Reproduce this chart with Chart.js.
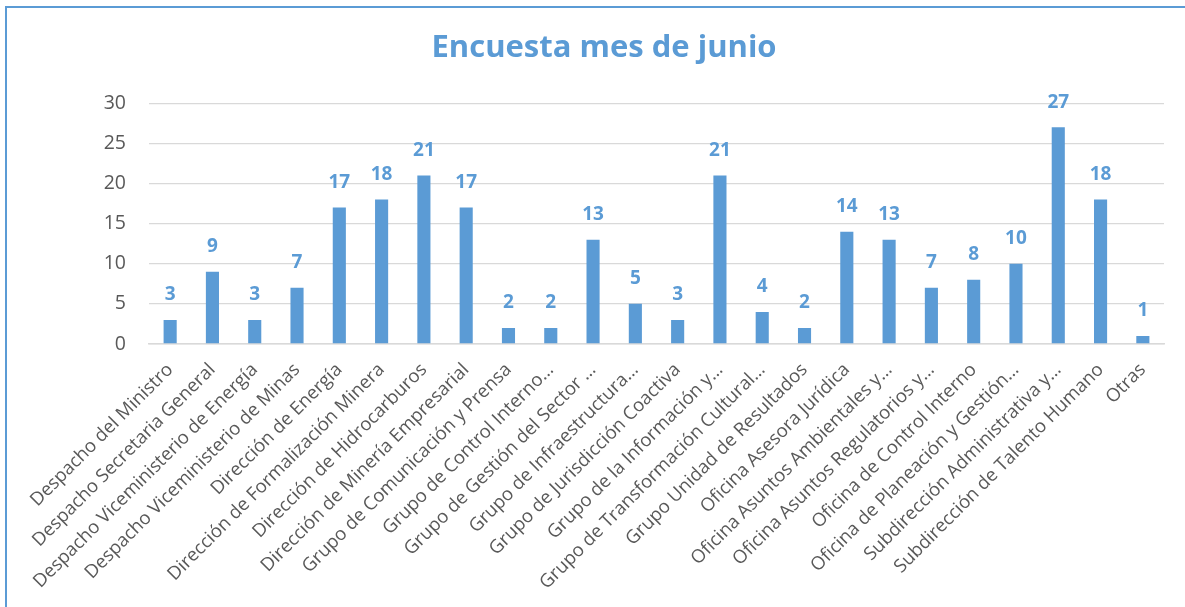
<!DOCTYPE html>
<html>
<head>
<meta charset="utf-8">
<title>Encuesta mes de junio</title>
<script src="https://cdn.jsdelivr.net/npm/chart.js@4/dist/chart.umd.min.js"></script>
<style>
    html, body { margin: 0; padding: 0; background: #fff; overflow: hidden; }
    #frame {
        position: absolute; left: 5px; top: 6px; width: 1200px; height: 620px;
        border: 2px solid #5b9bd5; box-sizing: border-box;
    }
    #wrap { position: absolute; left: 0; top: 0; width: 1185px; height: 607px; }
</style>
</head>
<body>
<div id="frame"></div>
<div id="wrap"><canvas id="surveyChart"></canvas></div>
<script>
// --- Chart data ---
const areas = [
    'Despacho del Ministro',
    'Despacho Secretaria General',
    'Despacho Viceministerio de Energía',
    'Despacho Viceministerio de Minas',
    'Dirección de Energía',
    'Dirección de Formalización Minera',
    'Dirección de Hidrocarburos',
    'Dirección de Minería Empresarial',
    'Grupo de Comunicación y Prensa',
    'Grupo de Control Interno…',
    'Grupo de Gestión del Sector …',
    'Grupo de Infraestructura…',
    'Grupo de Jurisdicción Coactiva',
    'Grupo de la Información y…',
    'Grupo de Transformación Cultural…',
    'Grupo Unidad de Resultados',
    'Oficina Asesora Jurídica',
    'Oficina Asuntos Ambientales y…',
    'Oficina Asuntos Regulatorios y…',
    'Oficina de Control Interno',
    'Oficina de Planeación y Gestión…',
    'Subdirección Administrativa y…',
    'Subdirección de Talento Humano',
    'Otras'
];
const responses = [3, 9, 3, 7, 17, 18, 21, 17, 2, 2, 13, 5, 3, 21, 4, 2, 14, 13, 7, 8, 10, 27, 18, 1];
const yTicks = [0, 5, 10, 15, 20, 25, 30];

const BLUE = '#5b9bd5';
const GREY_TEXT = '#595959';
const GRID = '#d9d9d9';

// value labels above each bar (no datalabels plugin offline)
const barValueLabels = {
    id: 'barValueLabels',
    afterDatasetsDraw(chart) {
        const ctx = chart.ctx;
        const meta = chart.getDatasetMeta(0);
        ctx.save();
        ctx.fillStyle = BLUE;
        ctx.font = 'bold 19px "Open Sans"';
        ctx.textAlign = 'center';
        ctx.textBaseline = 'middle';
        meta.data.forEach((bar, i) => {
            ctx.fillText(String(responses[i]), bar.x, bar.y - 25);
        });
        ctx.restore();
    }
};

const ctx = document.getElementById('surveyChart').getContext('2d');
const surveyChart = new Chart(ctx, {
    type: 'bar',
    data: {
        labels: areas,
        datasets: [{
            label: 'Encuesta mes de junio',
            data: responses,
            backgroundColor: BLUE,
            barPercentage: 0.31,
            categoryPercentage: 1.0
        }]
    },
    options: {
        responsive: true,
        maintainAspectRatio: false,
        animation: false,
        layout: { padding: { left: 44, right: 21, top: 0, bottom: 0 } },
        plugins: {
            legend: { display: false },
            tooltip: { enabled: false },
            title: {
                display: true,
                text: 'Encuesta mes de junio',
                color: BLUE,
                font: { family: 'Open Sans', size: 31, weight: 'bold', lineHeight: 1.2 },
                padding: { top: 30, bottom: 36 }
            }
        },
        scales: {
            x: {
                grid: { display: false, drawTicks: false },
                border: { display: true, color: GRID, width: 1.5 },
                ticks: {
                    color: GREY_TEXT,
                    font: { family: 'Open Sans', size: 18.5 },
                    autoSkip: false,
                    minRotation: 45,
                    maxRotation: 45,
                    padding: 15
                },
                afterFit(scale) { scale.height = 263; }
            },
            y: {
                min: 0,
                max: 30,
                afterBuildTicks(scale) { scale.ticks = yTicks.map(v => ({ value: v })); },
                grid: { color: GRID, lineWidth: 1.3, drawTicks: false },
                border: { display: false },
                ticks: {
                    color: GREY_TEXT,
                    font: { family: 'Open Sans', size: 19.5 },
                    padding: 23
                },
                afterFit(scale) { scale.width = 105; }
            }
        }
    },
    plugins: [barValueLabels]
});
</script>
</body>
</html>
